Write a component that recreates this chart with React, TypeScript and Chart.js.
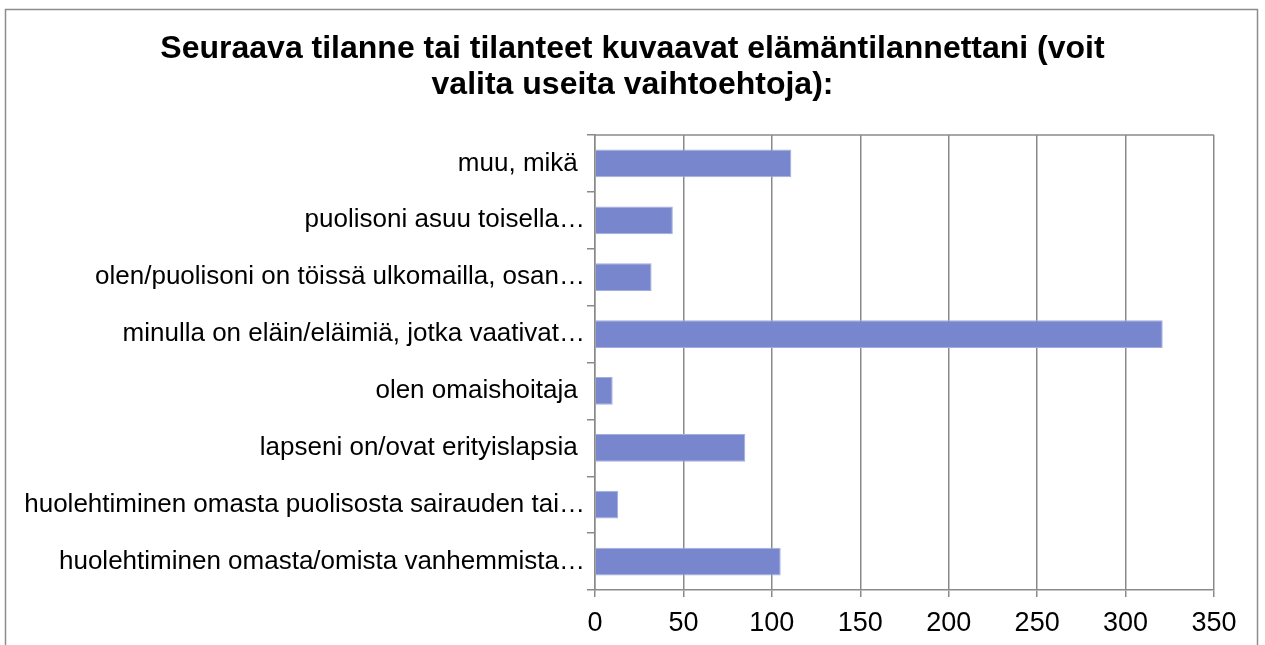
import React, { useEffect, useRef } from "react";
import { Chart, registerables } from "chart.js";

Chart.register(...registerables);

const titleLines = [
  "Seuraava tilanne tai tilanteet kuvaavat elämäntilannettani (voit",
  "valita useita vaihtoehtoja):",
];

const categories = [
  "muu, mikä ",
  "puolisoni asuu toisella…",
  "olen/puolisoni on töissä ulkomailla, osan…",
  "minulla on eläin/eläimiä, jotka vaativat…",
  "olen omaishoitaja ",
  "lapseni on/ovat erityislapsia ",
  "huolehtiminen omasta puolisosta sairauden tai…",
  "huolehtiminen omasta/omista vanhemmista…",
];

const values = [111, 44, 32, 321, 10, 85, 13, 105];

const xMin = 0;
const xMax = 350;
const xStep = 50;

const FONT = "'Liberation Sans', Arial, sans-serif";
const GRID = "#8a8a8a";

const framePlugin = {
  id: "frame",
  beforeDraw(chart: any) {
    const ctx = chart.ctx;
    ctx.save();
    ctx.fillStyle = "#ffffff";
    ctx.fillRect(0, 0, chart.width, chart.height);
    ctx.strokeStyle = "#8c8c8c";
    ctx.lineWidth = 1.5;
    ctx.strokeRect(5.5, 9.5, chart.width - 13, chart.height + 40);
    ctx.restore();
  },
  beforeDatasetsDraw(chart: any) {
    const { ctx, chartArea } = chart;
    ctx.save();
    ctx.strokeStyle = GRID;
    ctx.lineWidth = 1.5;
    ctx.beginPath();
    ctx.moveTo(chartArea.left, chartArea.top);
    ctx.lineTo(chartArea.right, chartArea.top);
    ctx.stroke();
    ctx.restore();
  },
};

export default function App() {
  const ref = useRef<HTMLCanvasElement | null>(null);

  useEffect(() => {
    if (!ref.current) return;
    const chart = new Chart(ref.current, {
      type: "bar",
      data: {
        labels: categories,
        datasets: [
          {
            data: values,
            backgroundColor: "#7887cd",
            borderColor: "#a3aee0",
            borderWidth: 1,
            barPercentage: 0.49,
            categoryPercentage: 1,
          },
        ],
      },
      options: {
        indexAxis: "y",
        responsive: false,
        animation: false,
        devicePixelRatio: 1,
        layout: { padding: { left: 0, right: 0, top: 0, bottom: 6 } },
        plugins: {
          legend: { display: false },
          tooltip: { enabled: false },
          title: {
            display: true,
            text: titleLines,
            color: "#000000",
            font: { family: FONT, size: 32, weight: "bold", lineHeight: 36 / 32 },
            padding: { top: 31, bottom: 32 },
          },
        },
        scales: {
          x: {
            min: xMin,
            max: xMax,
            afterFit(scale: any) {
              scale.height = 49;
            },
            ticks: {
              stepSize: xStep,
              color: "#000000",
              padding: 10,
              font: { family: FONT, size: 27 },
            },
            grid: {
              color: GRID,
              lineWidth: 1.5,
              tickLength: 7,
              drawTicks: true,
            },
            border: { color: GRID, width: 1.5 },
          },
          y: {
            afterFit(scale: any) {
              scale.width = 595;
              scale.paddingTop = 0;
              scale.paddingBottom = 0;
            },
            ticks: {
              color: "#000000",
              padding: 2,
              autoSkip: false,
              font: { family: FONT, size: 26 },
            },
            grid: {
              color: GRID,
              lineWidth: 1.5,
              drawOnChartArea: false,
              tickLength: 8,
              offset: true,
            },
            border: { color: GRID, width: 1.5 },
          },
          ySpacer: {
            axis: "y",
            position: "right",
            display: true,
            afterFit(scale: any) {
              scale.width = 51;
              scale.paddingTop = 0;
              scale.paddingBottom = 0;
            },
            ticks: { display: false },
            grid: { display: false, drawTicks: false },
            border: { display: false },
          },
        },
      },
      plugins: [framePlugin],
    });
    return () => chart.destroy();
  }, []);

  return (
    <div style={{ position: "absolute", left: 0, top: 0, width: 1265, height: 645 }}>
      <canvas ref={ref} width={1265} height={645} style={{ display: "block", width: 1265, height: 645 }} />
    </div>
  );
}
